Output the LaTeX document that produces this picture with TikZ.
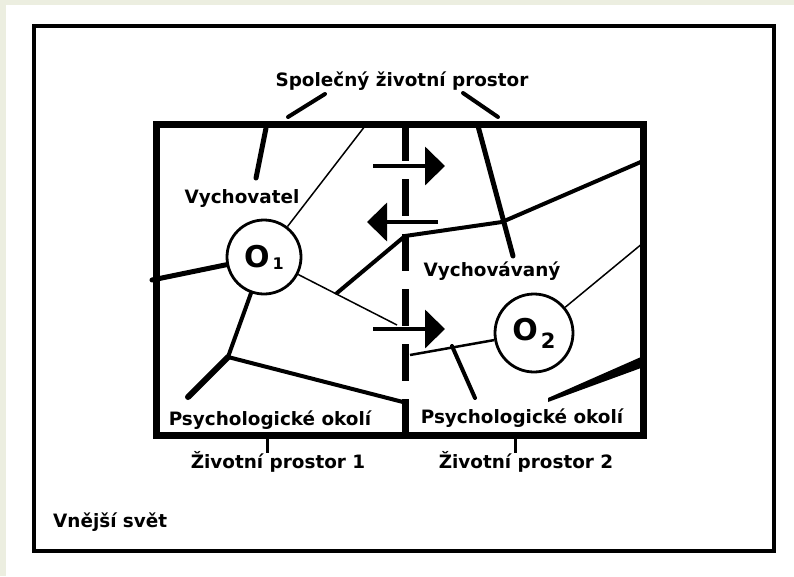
\documentclass[tikz,border=0pt]{standalone}
\usepackage{fontspec}
\setmainfont{DejaVu Sans}
\usepackage{xcolor}
\usepackage{tikz}
\usetikzlibrary{arrows.meta,calc}
\definecolor{paper}{HTML}{ECEEE0}
\definecolor{ink}{HTML}{000000}
\newcommand{\lblfont}{\fontsize{18.4}{22}\selectfont\bfseries}
\tikzset{
  Frame/.style={draw=ink, line width=4pt},
  Field/.style={draw=ink, line width=7pt},
  Wall/.style={draw=ink, line width=5pt, line cap=round, line join=round},
  Barrier/.style={draw=ink, line width=4pt, line cap=round},
  Thin/.style={draw=ink, line width=1.5pt},
  Person/.style={circle, draw=ink, line width=2.8pt, inner sep=0pt},
  Lbl/.style={font=\lblfont, inner sep=0pt, anchor=base},
  Flow/.style={draw=ink, line width=4pt, -{Triangle[length=20pt,width=38pt]}}
}

\begin{document}
\begin{tikzpicture}[x=1pt, y=-1pt, line cap=butt]
  \useasboundingbox (0,0) rectangle (794,576);
  \fill[paper] (0,0) rectangle (794,576);
  \fill[white] (6,5) rectangle (794,576);

  % outer world and the two life spaces
  \draw[Frame] (34,26) rectangle (774,551);
  \draw[Field] (156,124) rectangle (643,435);
  \draw[ink, line width=7pt, dash pattern=on 37pt off 18pt] (405,124) -- (405,442);

  \node[Person, minimum size=74pt] (ego) at (264,257)
    {\fontsize{30}{30}\selectfont\bfseries O\hspace{3pt}\raisebox{-2pt}{\fontsize{16}{16}\selectfont\bfseries 1}};
  \node[Person, minimum size=78pt] (pupil) at (534,333)
    {\fontsize{30}{30}\selectfont\bfseries O\hspace{3pt}\raisebox{-8pt}{\fontsize{21}{21}\selectfont\bfseries 2}};

  \coordinate (tlA) at (288,117);  \coordinate (tlB) at (325,94);
  \coordinate (trA) at (463,93);   \coordinate (trB) at (498,117);
  \coordinate (spur) at (266,128); \coordinate (spurEnd) at (256,178);
  \coordinate (topThin) at (365,126);
  \coordinate (leftWall) at (152,280);
  \coordinate (gate) at (397,325);
  \coordinate (fork) at (337,293);
  \coordinate (door) at (405,236);
  \coordinate (cross) at (502,222);
  \coordinate (rightWall) at (643,161);
  \coordinate (topR) at (478,126);  \coordinate (topREnd) at (513,256);
  \coordinate (rightThin) at (643,243);
  \coordinate (gateR) at (410,355);
  \coordinate (stub) at (452,346);  \coordinate (stubEnd) at (475,398);
  \coordinate (knot) at (228,357);
  \coordinate (foot) at (188,397);
  \coordinate (floor) at (403,402);

  % boundaries of the psychological field
  \draw[Barrier] (tlA) -- (tlB);
  \draw[Barrier] (trA) -- (trB);
  \draw[Wall] (spur) -- (spurEnd);
  \draw[Thin] (topThin) -- (ego);
  \draw[Wall] (leftWall) -- (ego);
  \draw[Thin] (ego) -- (gate);
  \draw[Wall, line width=4pt] (fork) -- (door) -- (cross) -- (rightWall);
  \draw[Wall] (topR) -- (topREnd);
  \draw[Thin] (rightThin) -- (pupil);
  \draw[ink, line width=2.5pt] (gateR) -- (pupil);
  \draw[Barrier] (stub) -- (stubEnd);
  \fill[ink] (641,357) -- (641,368) -- (548,402) -- (548,398) -- cycle;
  \draw[Barrier] (ego) -- (knot);
  \draw[Wall, line width=6pt] (knot) -- (foot);
  \draw[Barrier] (knot) -- (floor);
  \draw[ink, line width=3pt] (267,439) -- (267,453);
  \draw[ink, line width=3pt] (515,439) -- (515,453);

  % communication across the border
  \coordinate (f1a) at (373,166); \coordinate (f1b) at (445,166);
  \coordinate (f2a) at (438,222); \coordinate (f2b) at (367,222);
  \coordinate (f3a) at (373,329); \coordinate (f3b) at (445,329);
  \draw[Flow] (f1a) -- (f1b);
  \draw[Flow] (f2a) -- (f2b);
  \draw[Flow] (f3a) -- (f3b);

  \node[Lbl] (shared) at (402,86) {Společný životní prostor};
  \node[Lbl] (teacher) at (242,203) {Vychovatel};
  \node[Lbl] (child) at (492,276) {Vychovávaný};
  \node[Lbl] (envL) at (270,425) {Psychologické okolí};
  \node[Lbl] (envR) at (522,423) {Psychologické okolí};
  \node[Lbl] (spaceL) at (278,468) {Životní prostor 1};
  \node[Lbl] (spaceR) at (526,468) {Životní prostor 2};
  \node[Lbl, anchor=base west] (world) at (53,527) {Vnější svět};
\end{tikzpicture}
\end{document}
